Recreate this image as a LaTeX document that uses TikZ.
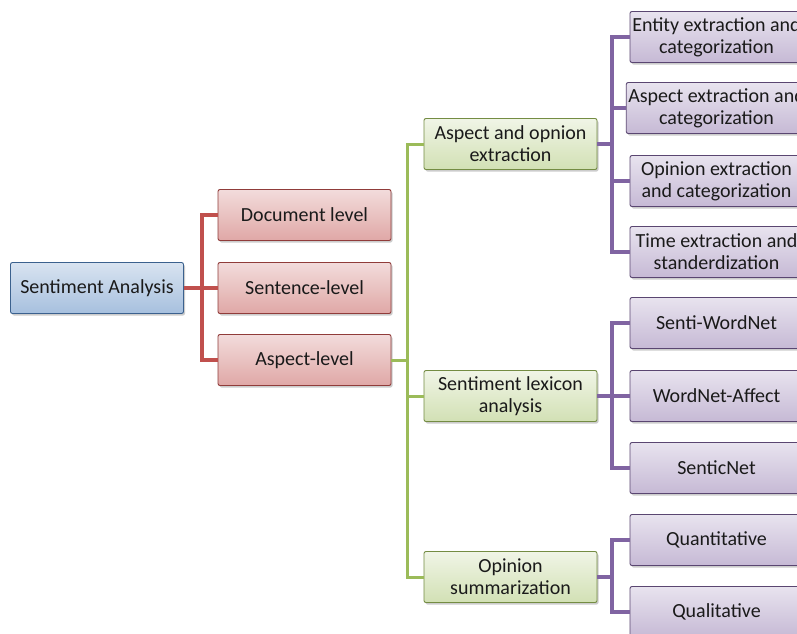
\documentclass[tikz,border=0pt]{standalone}
\usepackage{fontspec}
\setmainfont{Carlito}
\usetikzlibrary{shadows}
\definecolor{sablue}{HTML}{4F81BD}
\definecolor{sared}{HTML}{C0504D}
\definecolor{sagreen}{HTML}{9BBB59}
\definecolor{sapurple}{HTML}{8064A2}
\definecolor{txt}{HTML}{1A1A1A}
\tikzset{
  basebox/.style={rectangle, rounded corners=2pt, minimum width=173pt, minimum height=51pt,
    align=center, inner sep=2pt, font=\fontsize{20}{22}\selectfont, text=txt, line width=0.9pt,
    drop shadow={shadow xshift=1.5pt, shadow yshift=-2pt, opacity=0.4}},
  rootbox/.style={basebox, draw=sablue!75!black, top color=sablue!22, bottom color=sablue!50},
  lvlbox/.style={basebox, draw=sared!75!black, top color=sared!20, bottom color=sared!50},
  subbox/.style={basebox, draw=sagreen!75!black, top color=sagreen!15, bottom color=sagreen!45},
  leafbox/.style={basebox, draw=sapurple!70!black, top color=sapurple!18, bottom color=sapurple!45},
  redline/.style={draw=sared, line width=4pt},
  greenline/.style={draw=sagreen, line width=3pt},
  purpleline/.style={draw=sapurple, line width=3.8pt},
}
\begin{document}
\begin{tikzpicture}[x=1pt,y=-1pt]
\useasboundingbox (0,0) rectangle (797,633);
\clip (0,0) rectangle (797,633);
\fill[white] (0,0) rectangle (797,633);
% trunk coordinates
\coordinate (rt) at (202,288);
\coordinate (gt) at (407,360);
\coordinate (p1) at (612,144);
\coordinate (p2) at (612,396);
\coordinate (p3) at (612,577);
% boxes
\node[rootbox] (root) at (97,288) {Sentiment Analysis};
\node[lvlbox] (doc) at (304.5,215) {Document level};
\node[lvlbox] (sen) at (304.5,288) {Sentence-level};
\node[lvlbox] (asp) at (304.5,360) {Aspect-level};
\node[subbox] (aoe) at (510.5,144) {Aspect and opnion\\extraction};
\node[subbox] (sla) at (510.5,396) {Sentiment lexicon\\analysis};
\node[subbox] (osm) at (510.5,577) {Opinion\\summarization};
\node[leafbox] (ent) at (716.5,37) {Entity extraction and\\categorization};
\node[leafbox] (ase) at (716.5,108) {Aspect extraction and\\categorization};
\node[leafbox] (ope) at (716.5,181) {Opinion extraction\\and categorization};
\node[leafbox] (tim) at (716.5,252) {Time extraction and\\standerdization};
\node[leafbox] (swn) at (716.5,323) {Senti-WordNet};
\node[leafbox] (wna) at (716.5,396) {WordNet-Affect};
\node[leafbox] (snt) at (716.5,468) {SenticNet};
\node[leafbox] (qnt) at (716.5,540) {Quantitative};
\node[leafbox] (qlt) at (716.5,612) {Qualitative};
% red
\draw[redline] (root.east) -- (rt) |- (doc.west);
\draw[redline] (rt) |- (asp.west);
\draw[redline] (rt) -- (sen.west);
% green
\draw[greenline] (asp.east) -- (gt);
\draw[greenline] (gt) |- (aoe.west);
\draw[greenline] (gt) |- (sla.west);
\draw[greenline] (gt) |- (osm.west);
% purple
\draw[purpleline] (aoe.east) -- (p1);
\foreach \n in {ent,ase,ope,tim} \draw[purpleline] (p1) |- (\n.west);
\draw[purpleline] (sla.east) -- (p2);
\foreach \n in {swn,wna,snt} \draw[purpleline] (p2) |- (\n.west);
\draw[purpleline] (osm.east) -- (p3);
\foreach \n in {qnt,qlt} \draw[purpleline] (p3) |- (\n.west);
\end{tikzpicture}
\end{document}
